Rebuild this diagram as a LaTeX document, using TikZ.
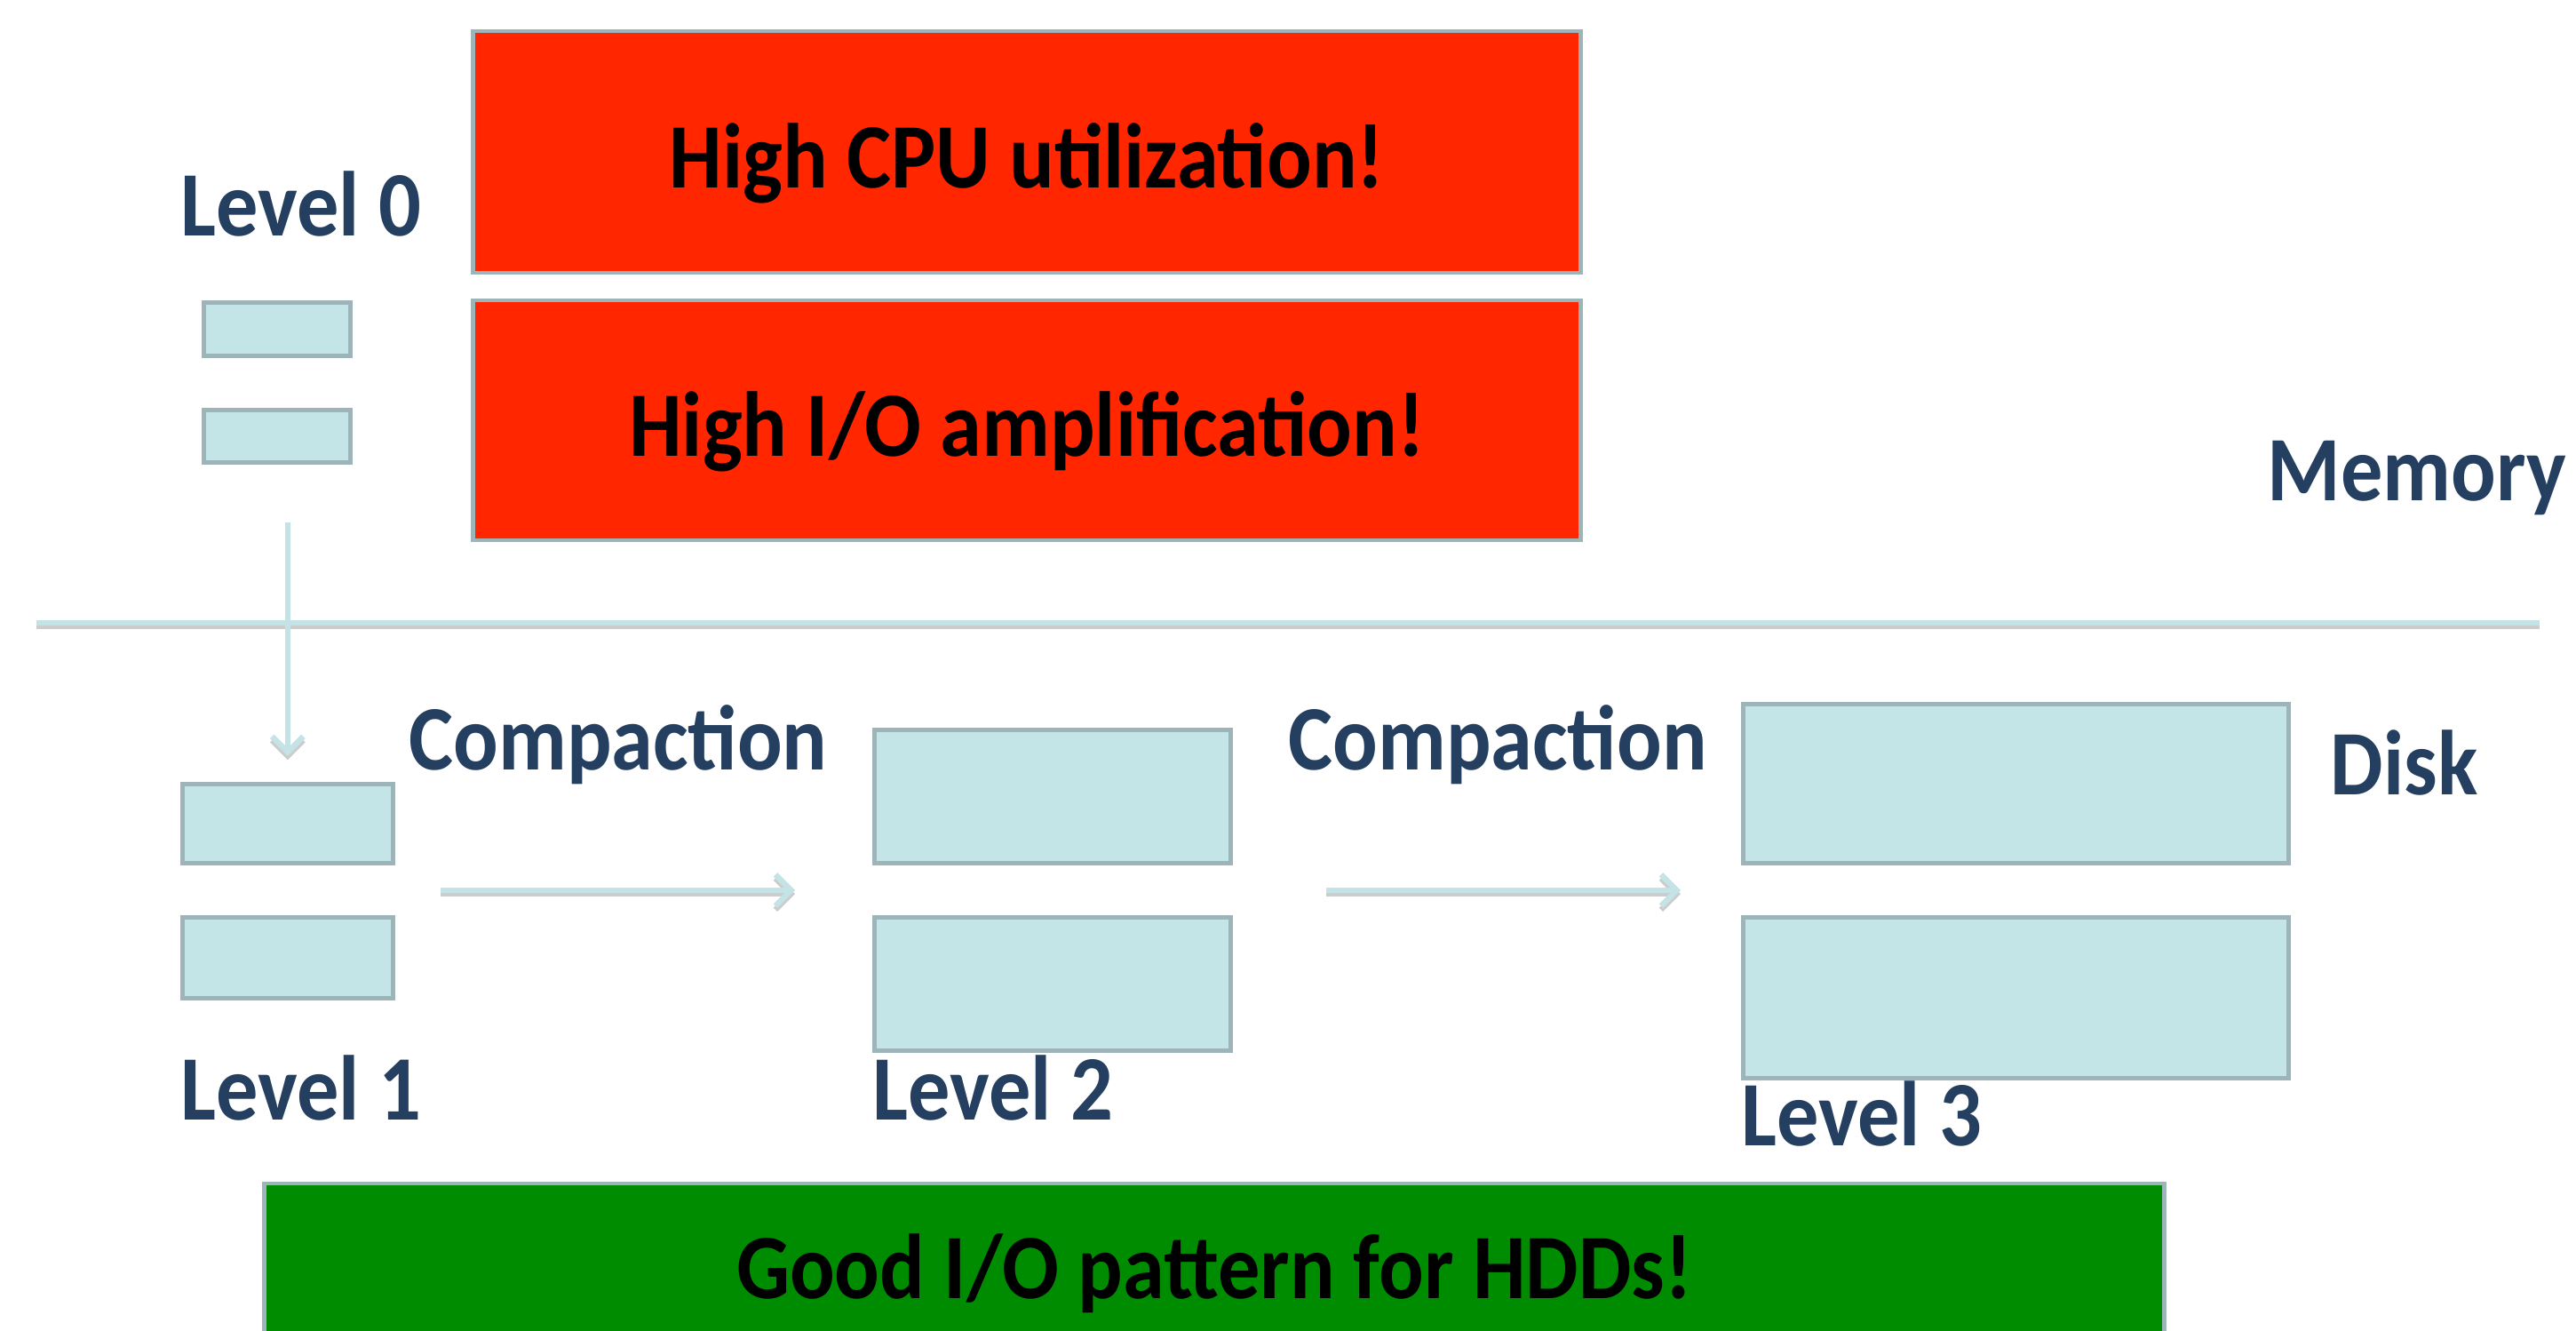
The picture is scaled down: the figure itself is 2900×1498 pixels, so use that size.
\documentclass[tikz,border=0pt]{standalone}
\usepackage{fontspec}
\setmainfont{Carlito}[FakeStretch=0.91]
\usepackage{xcolor}
\usetikzlibrary{arrows.meta,positioning}

\definecolor{runred}{HTML}{FF2600}
\definecolor{goodgreen}{HTML}{008C00}
\definecolor{sstfill}{HTML}{C4E5E7}
\definecolor{sstedge}{HTML}{9DB5B8}
\definecolor{levelblue}{HTML}{243F60}
\definecolor{flowline}{HTML}{C3E3E6}

\newcommand{\bigfont}{\fontsize{29.5}{34}\selectfont\bfseries}

\begin{document}
\begin{tikzpicture}[x=0.01cm,y=-0.01cm,>={Straight Barb[length=5pt,width=10pt]},
  sst/.style={draw=sstedge, line width=1.3pt, fill=sstfill, inner sep=0pt, anchor=north west},
  banner/.style={draw=sstedge, line width=1.3pt, inner sep=0pt, text height=0.8cm, text depth=0pt, font=\bigfont, text=black},
  lbl/.style={font=\bigfont, text=levelblue, anchor=base west, inner sep=0pt},
  flow/.style={->, draw=flowline, line width=1.8pt,
    preaction={draw=black!20, line width=1.8pt, transform canvas={yshift=-1.2pt}}}]

\useasboundingbox (0,0) rectangle (2900,1498);
\clip (0,0) rectangle (2900,1498);

% Memory / disk border
\draw[flow, -] (41,701) -- (2859,701);
\node[lbl] (mem) at (2552,564) {Memory};
\node[lbl] (disk) at (2623,895) {Disk};

% Level 0 (in memory)
\node[lbl] (lv0) at (203,266) {Level 0};
\node[sst, minimum width=1.65cm, minimum height=0.60cm] (l0a) at (227,338) {};
\node[sst, minimum width=1.65cm, minimum height=0.59cm] (l0b) at (227,459) {};

% Warnings
\node[banner, fill=runred, minimum width=12.46cm, minimum height=2.72cm] (cpu) at (1156,171) {High CPU utilization!};
\node[banner, fill=runred, minimum width=12.46cm, minimum height=2.70cm] (amp) at (1156,473) {High I/O amplification!};

% Level 1
\node[sst, minimum width=2.37cm, minimum height=0.89cm] (l1a) at (203,880) {};
\node[sst, minimum width=2.37cm, minimum height=0.91cm] (l1b) at (203,1030) {};
\node[lbl] (lv1) at (203,1260) {Level 1};

% Level 2
\node[sst, minimum width=4.01cm, minimum height=1.50cm] (l2a) at (982,819) {};
\node[sst, minimum width=4.01cm, minimum height=1.50cm] (l2b) at (982,1030) {};
\node[lbl] (lv2) at (982,1260) {Level 2};

% Level 3
\node[sst, minimum width=6.14cm, minimum height=1.79cm] (l3a) at (1960,790) {};
\node[sst, minimum width=6.14cm, minimum height=1.81cm] (l3b) at (1960,1030) {};
\node[lbl] (lv3) at (1960,1289) {Level 3};

% Flush and compactions
\draw[flow, shorten <=0.65cm, shorten >=0.29cm] (l0b.south -| l1a.north) -- (l1a.north);

\node[lbl] (cmp1) at (460,867) {Compaction};
\coordinate (c1a) at (496,1002);
\coordinate (c1b) at (895,1002);
\draw[flow] (c1a) -- (c1b);

\node[lbl] (cmp2) at (1450,867) {Compaction};
\coordinate (c2a) at (1493,1002);
\coordinate (c2b) at (1892,1002);
\draw[flow] (c2a) -- (c2b);

% Verdict
\node[banner, fill=goodgreen, minimum width=21.38cm, minimum height=1.78cm] (hdd) at (1367,1421) {Good I/O pattern for HDDs!};

\end{tikzpicture}
\end{document}
